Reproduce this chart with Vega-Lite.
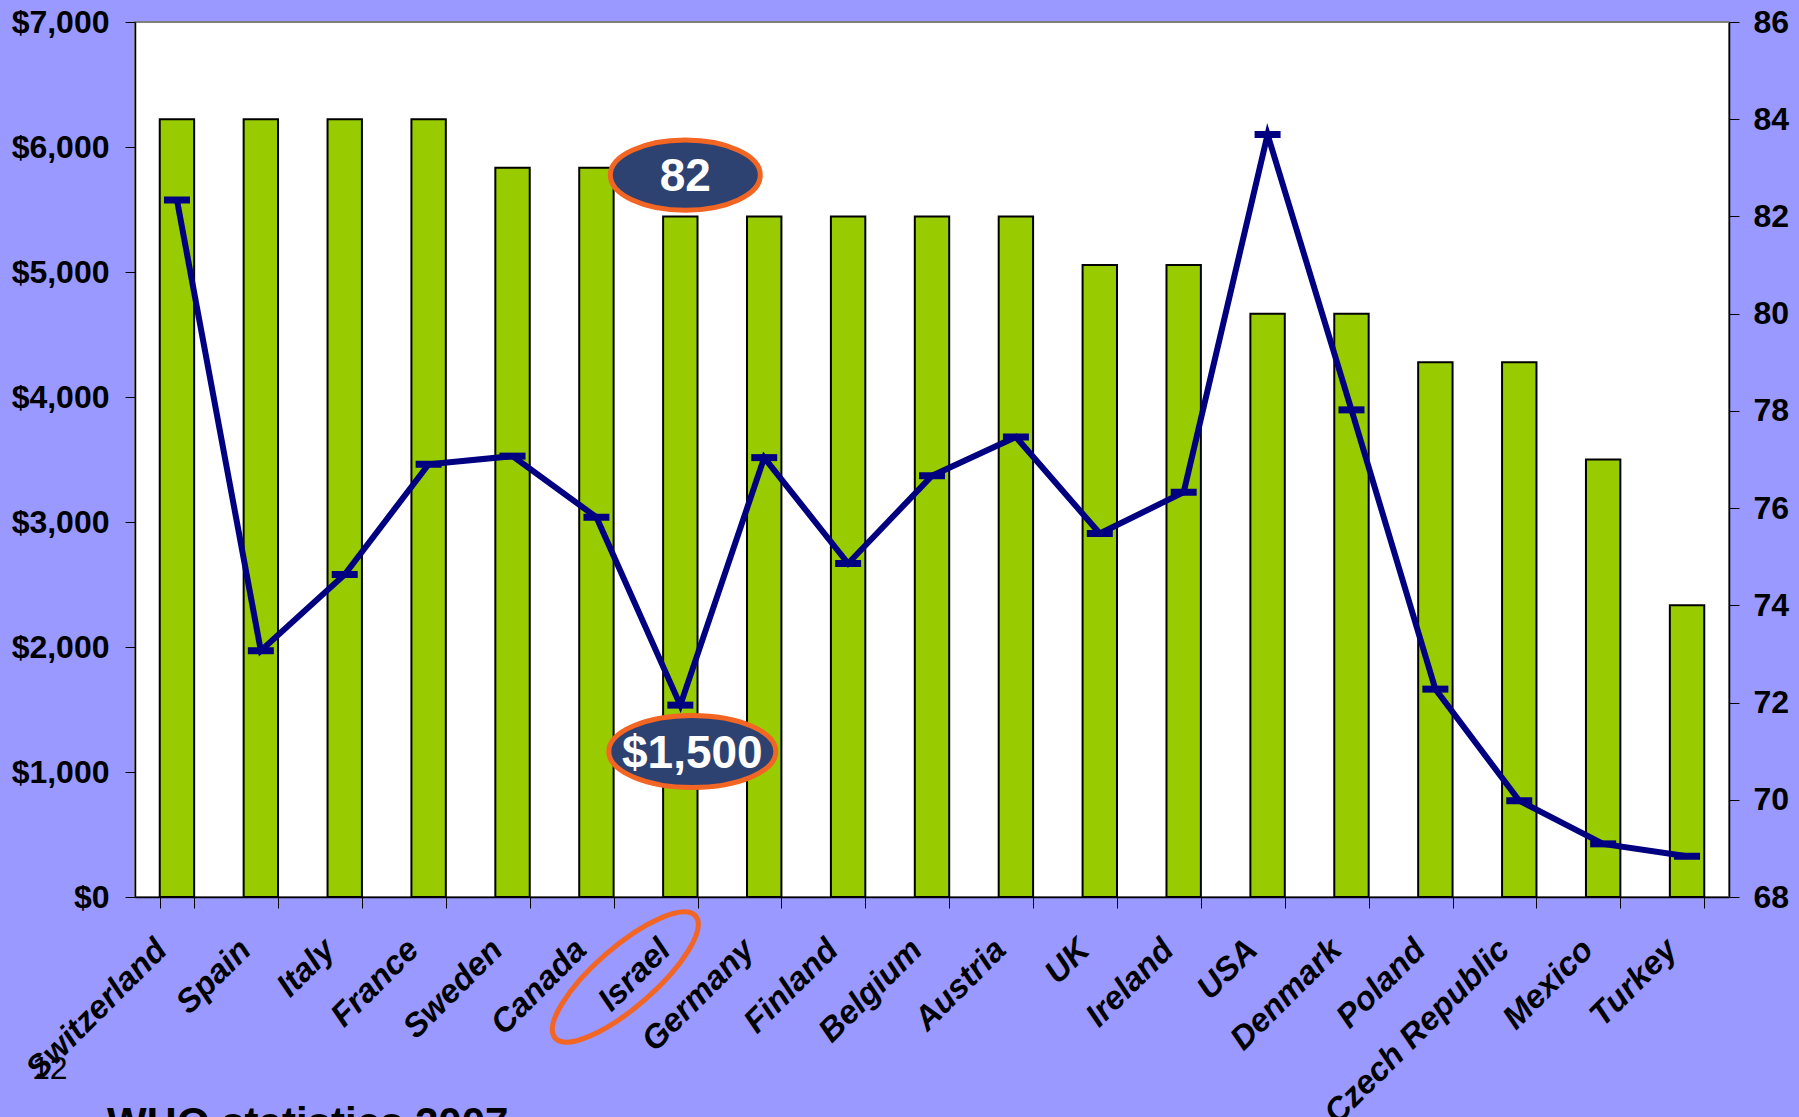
{
  "$schema": "https://vega.github.io/schema/vega-lite/v6.json",
  "width": 1594,
  "height": 875,
  "autosize": {"type": "none"},
  "padding": {"left": 135, "top": 22, "right": 70, "bottom": 220},
  "background": "#9999FF",
  "config": {
    "view": {"fill": "white", "stroke": "#808080", "strokeWidth": 2},
    "font": "Liberation Sans"
  },
  "data": {
    "values": [
      {"country": "Switzerland", "life": 84, "spend": 5576},
      {"country": "Spain", "life": 84, "spend": 1970},
      {"country": "Italy", "life": 84, "spend": 2580},
      {"country": "France", "life": 84, "spend": 3462},
      {"country": "Sweden", "life": 83, "spend": 3527},
      {"country": "Canada", "life": 83, "spend": 3038},
      {"country": "Israel", "life": 82, "spend": 1535},
      {"country": "Germany", "life": 82, "spend": 3515},
      {"country": "Finland", "life": 82, "spend": 2668},
      {"country": "Belgium", "life": 82, "spend": 3370},
      {"country": "Austria", "life": 82, "spend": 3680},
      {"country": "UK", "life": 81, "spend": 2908},
      {"country": "Ireland", "life": 81, "spend": 3238},
      {"country": "USA", "life": 80, "spend": 6100},
      {"country": "Denmark", "life": 80, "spend": 3897},
      {"country": "Poland", "life": 79, "spend": 1663},
      {"country": "Czech Republic", "life": 79, "spend": 770},
      {"country": "Mexico", "life": 77, "spend": 425},
      {"country": "Turkey", "life": 74, "spend": 326}
    ]
  },
  "encoding": {
    "x": {
      "field": "country",
      "type": "nominal",
      "sort": null,
      "scale": {
        "domain": ["Switzerland", "Spain", "Italy", "France", "Sweden", "Canada", "Israel", "Germany", "Finland", "Belgium", "Austria", "UK", "Ireland", "USA", "Denmark", "Poland", "Czech Republic", "Mexico", "Turkey"],
        "paddingInner": 0.59,
        "paddingOuter": 0.295
      },
      "axis": {
        "title": null,
        "labelAngle": -45,
        "labelFontSize": 33,
        "labelFontWeight": "bold",
        "labelFontStyle": "italic",
        "labelColor": "black",
        "labelLimit": 400,
        "labelPadding": 25,
        "labelOffset": -27,
        "tickBand": "extent",
        "tickSize": 11,
        "tickColor": "black",
        "domainColor": "black",
        "domainWidth": 1.5,
        "grid": false
      }
    }
  },
  "layer": [
    {
      "layer": [
        {
          "mark": {"type": "bar", "color": "#99CC00", "stroke": "black", "strokeWidth": 2},
          "encoding": {
            "y": {
              "field": "life",
              "type": "quantitative",
              "scale": {"domain": [68, 86], "zero": false, "nice": false},
              "axis": {
                "orient": "right",
                "title": null,
                "values": [68, 70, 72, 74, 76, 78, 80, 82, 84, 86],
                "labelFontSize": 32,
                "labelFontWeight": "bold",
                "labelColor": "black",
                "labelPadding": 14,
                "tickSize": 10,
                "tickColor": "black",
                "domainColor": "black",
                "domainWidth": 1.5,
                "grid": false
              }
            },
            "y2": {"datum": 68}
          }
        },
        {
          "data": {"values": [{"country": "Israel", "life": 82.85, "label": "82"}]},
          "mark": {
            "type": "point",
            "shape": "M-1,0A1,0.467 0 1,1 1,0A1,0.467 0 1,1 -1,0Z",
            "size": 22500,
            "filled": true,
            "fill": "#2E4272",
            "stroke": "#F26522",
            "strokeWidth": 5,
            "opacity": 1,
            "xOffset": 5
          },
          "encoding": {
            "y": {"field": "life", "type": "quantitative"}
          }
        },
        {
          "data": {"values": [{"country": "Israel", "life": 82.85, "label": "82"}]},
          "mark": {
            "type": "text",
            "fontSize": 46,
            "fontWeight": "bold",
            "color": "white",
            "baseline": "middle",
            "align": "center",
            "dx": 5,
            "dy": 2
          },
          "encoding": {
            "y": {"field": "life", "type": "quantitative"},
            "text": {"field": "label"}
          }
        }
      ]
    },
    {
      "layer": [
        {
          "mark": {"type": "line", "color": "#000080", "strokeWidth": 6},
          "encoding": {
            "y": {
              "field": "spend",
              "type": "quantitative",
              "scale": {"domain": [0, 7000], "nice": false},
              "axis": {
                "orient": "left",
                "title": null,
                "values": [0, 1000, 2000, 3000, 4000, 5000, 6000, 7000],
                "format": "$,.0f",
                "labelFontSize": 32,
                "labelFontWeight": "bold",
                "labelColor": "black",
                "labelPadding": 16,
                "tickSize": 10,
                "tickColor": "black",
                "domainColor": "black",
                "domainWidth": 1.5,
                "grid": false
              }
            }
          }
        },
        {
          "mark": {"type": "tick", "color": "#000080", "thickness": 7, "size": 26, "opacity": 1},
          "encoding": {
            "y": {"field": "spend", "type": "quantitative"}
          }
        },
        {
          "data": {"values": [{"country": "Israel", "spend": 1164, "label": "$1,500"}]},
          "mark": {
            "type": "point",
            "shape": "M-1,0A1,0.431 0 1,1 1,0A1,0.431 0 1,1 -1,0Z",
            "size": 27889,
            "filled": true,
            "fill": "#2E4272",
            "stroke": "#F26522",
            "strokeWidth": 5,
            "opacity": 1,
            "xOffset": 12
          },
          "encoding": {
            "y": {"field": "spend", "type": "quantitative"}
          }
        },
        {
          "data": {"values": [{"country": "Israel", "spend": 1164, "label": "$1,500"}]},
          "mark": {
            "type": "text",
            "fontSize": 46,
            "fontWeight": "bold",
            "color": "white",
            "baseline": "middle",
            "align": "center",
            "dx": 12,
            "dy": 2
          },
          "encoding": {
            "y": {"field": "spend", "type": "quantitative"},
            "text": {"field": "label"}
          }
        },
        {
          "data": {"values": [{"country": "Israel", "spend": -640}]},
          "mark": {
            "type": "point",
            "shape": "M-1,0A1,0.3226 0 1,1 1,0A1,0.3226 0 1,1 -1,0Z",
            "size": 34596,
            "filled": false,
            "stroke": "#F26522",
            "strokeWidth": 5,
            "opacity": 1,
            "angle": 319,
            "xOffset": -55
          },
          "encoding": {
            "y": {"field": "spend", "type": "quantitative"}
          }
        },
        {
          "data": {"values": [{"country": "Switzerland", "spend": -1456, "label": "12"}]},
          "mark": {
            "type": "text",
            "fontSize": 32,
            "color": "black",
            "baseline": "alphabetic",
            "align": "left",
            "dx": -145
          },
          "encoding": {
            "y": {"field": "spend", "type": "quantitative"},
            "text": {"field": "label"}
          }
        },
        {
          "data": {"values": [{"country": "Switzerland", "spend": -1920, "label": "WHO statistics 2007"}]},
          "mark": {
            "type": "text",
            "fontSize": 42,
            "fontWeight": "bold",
            "color": "black",
            "baseline": "alphabetic",
            "align": "left",
            "dx": -70
          },
          "encoding": {
            "y": {"field": "spend", "type": "quantitative"},
            "text": {"field": "label"}
          }
        }
      ]
    }
  ],
  "resolve": {"scale": {"y": "independent"}}
}
